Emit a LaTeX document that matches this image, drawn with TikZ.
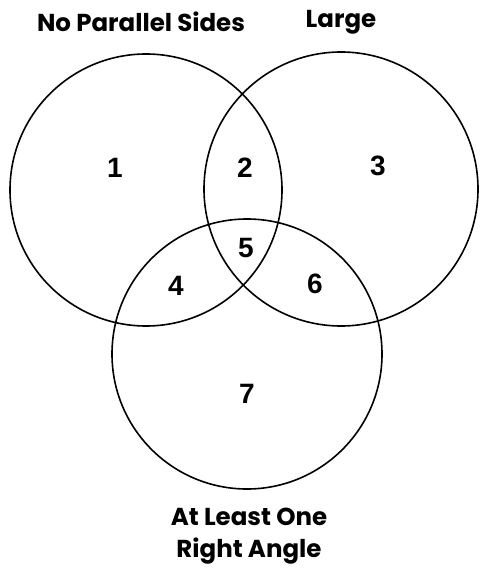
\documentclass[tikz,border=0pt]{standalone}
\usepackage{fontspec}
\setmainfont{Poppins}
\setsansfont{Liberation Sans}
\begin{document}
\begin{tikzpicture}[x=1pt,y=-1pt]
  \tikzset{set/.style={draw, circle, line width=1.6pt, inner sep=0pt},
           region/.style={font=\sffamily\bfseries\fontsize{28}{28}\selectfont},
           title/.style={font=\bfseries\fontsize{24.5}{32}\selectfont, align=center}}
  \useasboundingbox (0,0) rectangle (479,569);

  \node[set, minimum size=272pt] (noparallel) at (146,190) {};
  \node[set, minimum size=274pt] (large) at (341,189) {};
  \node[set, minimum size=270pt] (rightangle) at (247,354) {};

  \node[title] (noparalleltitle) at (141,22) {No Parallel Sides};
  \node[title] (largetitle) at (341,22) {Large};
  \node[title] (rightangletitle) at (249,536) {At Least One\\Right Angle};

  \node[region] (r1) at (115,168) {1};
  \node[region] (r2) at (245,168) {2};
  \node[region] (r3) at (378,166) {3};
  \node[region] (r4) at (176,286) {4};
  \node[region] (r5) at (246,248) {5};
  \node[region] (r6) at (315,284) {6};
  \node[region] (r7) at (247,394) {7};
\end{tikzpicture}
\end{document}
